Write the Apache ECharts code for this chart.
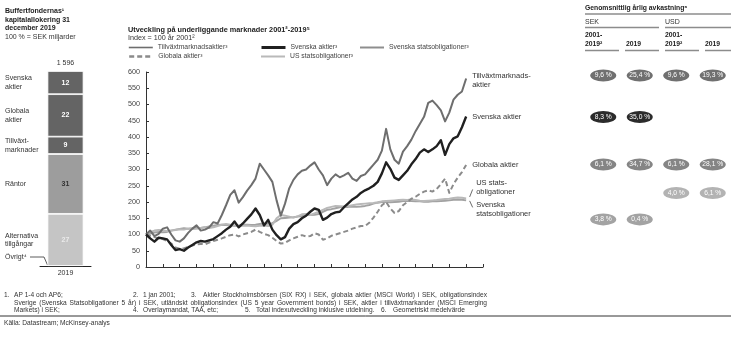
<!DOCTYPE html>
<html>
<head>
<meta charset="utf-8">
<script src="https://cdn.jsdelivr.net/npm/echarts@6/dist/echarts.min.js"></script>
<style>
  html, body { margin: 0; padding: 0; background: #fff; }
  #chart { width: 731px; height: 339px; }
</style>
</head>
<body>
<div id="chart"></div>
<script>
// ---------------------------------------------------------------
// Data
// ---------------------------------------------------------------

// Sample dates of the index series: quarterly, Jan 2001 .. Jan 2020
const quarters = Array.from({ length: 77 }, (_, i) => 2001 + i / 4);

// Index values (100 = 2001), one per quarter
const emergingEq = [
  100, 112, 95, 102,   118, 122, 100, 82,   78, 88, 105, 118,   128, 112, 115, 122,
  138, 134, 160, 190,  222, 236, 198, 215,  235, 252, 272, 318,  300, 282, 262, 205,
  158, 195, 242, 268,  285, 296, 300, 312,  322, 300, 282, 252,  272, 285, 276, 282,
  290, 272, 265, 280,  285, 300, 315, 330,  358, 425, 362, 330,  318, 355, 372, 392,
  418, 440, 462, 505,  512, 498, 482, 448,  475, 515, 530, 540,  580
];
const swedishEq = [
  100, 88, 78, 90,     88, 85, 68, 52,      55, 50, 60, 68,      76, 80, 78, 82,
  86, 95, 104, 115,    124, 140, 122, 134,  148, 162, 180, 160,  128, 145, 115, 98,
  85, 92, 118, 132,    138, 150, 158, 170,  180, 176, 145, 152,  163, 168, 170, 184,
  196, 208, 216, 228,  236, 242, 250, 262,  288, 322, 302, 275,  268, 282, 296, 316,
  332, 352, 362, 354,  362, 372, 390, 345,  378, 396, 402, 430,  463
];
const globalEq = [
  100, 96, 92, 88,     86, 80, 72, 60,      56, 57, 62, 66,      70, 71, 70, 75,
  80, 84, 88, 93,      98, 100, 94, 100,    104, 108, 115, 108,  102, 98, 90, 80,
  72, 74, 82, 88,      93, 98, 94, 95,      104, 100, 84, 88,    96, 100, 104, 108,
  112, 118, 122, 126,  126, 136, 152, 170,  190, 200, 180, 166,  172, 190, 200, 210,
  216, 225, 232, 236,  232, 240, 255, 272,  228, 255, 275, 292,  314
];
const swedishBonds = [
  100, 103, 106, 108,  107, 108, 112, 115,  117, 119, 118, 119,  121, 120, 122, 125,
  127, 129, 130, 129,  128, 127, 128, 130,  130, 129, 130, 132,  134, 133, 135, 142,
  150, 151, 152, 153,  155, 157, 160, 160,  161, 163, 170, 176,  178, 181, 184, 185,
  185, 186, 185, 186,  188, 191, 195, 198,  200, 200, 199, 200,  201, 203, 204, 203,
  202, 202, 201, 201,  202, 202, 203, 204,  205, 207, 208, 207,  205
];
const usBonds = [
  100, 108, 112, 114,  113, 110, 112, 114,  116, 115, 118, 117,  118, 120, 122, 120,
  122, 126, 130, 132,  130, 128, 126, 127,  128, 126, 125, 127,  128, 126, 130, 150,
  160, 158, 155, 152,  156, 162, 163, 160,  165, 170, 176, 182,  185, 188, 187, 186,
  188, 190, 192, 194,  195, 196, 197, 199,  202, 203, 204, 205,  206, 207, 206, 208,
  206, 204, 203, 204,  205, 206, 208, 209,  210, 212, 214, 213,  211
];

// Average annual return (%), rows: EM, Swedish eq, global eq, US bonds, Swedish bonds
const returnColumns = ['SEK 2001-2019', 'SEK 2019', 'USD 2001-2019', 'USD 2019'];
const retSekLong = [9.6, 8.3, 6.1, null, 3.8];
const retSek2019 = [25.4, 35.0, 34.7, null, 0.4];
const retUsdLong = [9.6, null, 6.1, 4.0, null];
const retUsd2019 = [19.3, null, 28.1, 6.1, null];

// Buffer funds' allocation at 31 Dec 2019 (% of total), top to bottom
const allocYear = ['2019'];
const allocNames = ['Svenska\naktier', 'Globala\naktier', 'Tillväxt-\nmarknader', 'Räntor', 'Alternativa\ntillgångar'];
const allocShares = [12, 22, 9, 31, 27];
const allocTotalLabel = '1 596';

// ---------------------------------------------------------------
// Styling
// ---------------------------------------------------------------
const FONT = '"Liberation Sans", Arial, Helvetica, sans-serif';

const lineDefs = [
  { name: 'Svenska statsobligationer³', data: swedishBonds, color: '#a2a2a2', width: 2, legendColor: '#8e8e8e',
    end: 'Svenska\nstatsobligationer', endOffset: [4, 9], row: 4, pillColor: '#a3a3a3', pillShift: 19 },
  { name: 'US statsobligationer³', data: usBonds, color: '#b9b9b9', width: 2, legendColor: '#b9b9b9',
    end: 'US stats-\nobligationer', endOffset: [4, -10.5], row: 3, pillColor: '#b3b3b3', pillShift: -5.5 },
  { name: 'Globala aktier³', data: globalEq, color: '#8b8b8b', width: 2, dash: [5, 3], legendWidth: 2.4,
    end: 'Globala aktier', endOffset: [0, 0], row: 2, pillColor: '#858585', pillShift: -0.5 },
  { name: 'Tillväxtmarknadsaktier³', data: emergingEq, color: '#6e6e6e', width: 2, legendWidth: 1.6,
    end: 'Tillväxtmarknads-\naktier', endOffset: [0, 2], row: 0, pillColor: '#707070', pillShift: -3 },
  { name: 'Svenska aktier³', data: swedishEq, color: '#202020', width: 2.4, legendWidth: 3,
    end: 'Svenska aktier', endOffset: [0, 0], row: 1, pillColor: '#2b2b2b', pillShift: 0.5 }
];

const retByColumn = [retSekLong, retSek2019, retUsdLong, retUsd2019];
const fmtPct = v => v.toFixed(1).replace('.', ',') + ' %';

// ---------------------------------------------------------------
// Series
// ---------------------------------------------------------------
const series = [];

lineDefs.forEach(d => {
  series.push({
    type: 'line', name: d.name, xAxisIndex: 0, yAxisIndex: 0,
    data: quarters.map((t, i) => [t, d.data[i]]),
    symbol: 'none', smooth: false,
    lineStyle: { color: d.color, width: d.width, type: d.dash || 'solid', join: 'round' },
    itemStyle: { color: d.legendColor || d.color },
    endLabel: {
      show: true, formatter: d.end, offset: d.endOffset, distance: 6,
      fontSize: 7.5, lineHeight: 9, color: '#333', fontFamily: FONT, align: 'left'
    },
    emphasis: { disabled: true }
  });
});

// Return "pills", one scatter row per market, aligned to the end of its line
lineDefs.forEach(d => {
  const last = d.data[d.data.length - 1];
  const pts = [];
  retByColumn.forEach((col, c) => {
    const v = col[d.row];
    if (v !== null) pts.push([c, last, v]);
  });
  series.push({
    type: 'scatter', xAxisIndex: 1, yAxisIndex: 1,
    data: pts, symbol: 'circle', symbolSize: [26, 12], symbolOffset: [0, d.pillShift],
    itemStyle: { color: d.pillColor, opacity: 1 },
    label: {
      show: true, position: 'inside', formatter: p => fmtPct(p.value[2]),
      color: '#fff', fontSize: 6.7, fontFamily: FONT
    },
    emphasis: { disabled: true }, silent: true
  });
});

// Allocation column, stacked from the bottom
const allocColors = ['#646464', '#646464', '#646464', '#9d9d9d', '#c5c5c5'];
const allocLabelColors = ['#fff', '#fff', '#fff', '#333', '#eaeaea'];
const allocTotal = allocShares.reduce((a, b) => a + b, 0);
for (let k = allocShares.length - 1; k >= 0; k--) {
  series.push({
    type: 'bar', name: allocNames[k], stack: 'alloc', xAxisIndex: 2, yAxisIndex: 2,
    data: [allocShares[k]], barWidth: 36,
    itemStyle: { color: allocColors[k], borderColor: '#fff', borderWidth: 0.8 },
    label: { show: true, position: 'inside', color: allocLabelColors[k], fontSize: 7, fontWeight: 'bold', fontFamily: FONT },
    emphasis: { disabled: true }, silent: true
  });
}

// ---------------------------------------------------------------
// Legends (one per entry, laid out in two rows), plain line samples
// ---------------------------------------------------------------
const legendSpots = {
  'Tillväxtmarknadsaktier³': [128, 44],
  'Svenska aktier³': [260, 44],
  'Svenska statsobligationer³': [359, 44],
  'Globala aktier³': [128, 53],
  'US statsobligationer³': [260, 53]
};
const legends = lineDefs.map(d => ({
  data: [d.name], left: legendSpots[d.name][0], top: legendSpots[d.name][1], padding: 0,
  itemWidth: 24, itemHeight: 8, selectedMode: false,
  itemStyle: { opacity: 0 },
  lineStyle: { color: d.legendColor || d.color, width: d.legendWidth || d.width, type: d.dash || 'solid' },
  textStyle: { fontSize: 6.8, color: '#444', fontFamily: FONT }
}));

const option = {
  animation: false,
  textStyle: { fontFamily: FONT },
  legend: legends,
  grid: [
    { left: 146, top: 72, width: 337, height: 195 },
    { left: 585, top: 72, width: 153, height: 195 },
    { left: 40, top: 71, width: 51, height: 195 }
  ],
  xAxis: [
    { gridIndex: 0, type: 'value', min: 2001, max: 2021, interval: 1,
      axisLabel: { show: false }, splitLine: { show: false },
      axisTick: { show: true, inside: true, length: 3, lineStyle: { color: '#333' } },
      axisLine: { show: true, lineStyle: { color: '#333', width: 1 } } },
    { gridIndex: 1, type: 'category', data: returnColumns, show: false },
    { gridIndex: 2, type: 'category', data: allocYear,
      axisTick: { show: false }, axisLine: { lineStyle: { color: '#222', width: 1 } },
      axisLabel: { fontSize: 7, color: '#333', margin: 4 } }
  ],
  yAxis: [
    { gridIndex: 0, type: 'value', min: 0, max: 600, interval: 50,
      axisLabel: { fontSize: 7.2, color: '#444', margin: 6 }, splitLine: { show: false },
      axisTick: { show: true, inside: true, length: 3, lineStyle: { color: '#333' } },
      axisLine: { show: true, lineStyle: { color: '#333', width: 1 } } },
    { gridIndex: 1, type: 'value', min: 0, max: 600, show: false },
    { gridIndex: 2, type: 'value', min: 0, max: allocTotal, show: false }
  ],
  series: series
};

const chart = echarts.init(document.getElementById('chart'));
chart.setOption(option);

// ---------------------------------------------------------------
// Titles, headers, annotations and footnotes
// ---------------------------------------------------------------
function txt(x, y, text, o) {
  return { type: 'text', x: x, y: y, silent: true,
    style: Object.assign({ text: text, fill: '#333', fontSize: 7, fontFamily: FONT,
      verticalAlign: 'middle', align: 'left', lineHeight: 8.6 }, o || {}) };
}
function seg(pts, stroke, w) {
  return { type: 'polyline', silent: true, shape: { points: pts },
    style: { stroke: stroke || '#8a8a8a', lineWidth: w || 1.5, fill: null } };
}

// Justified text: words spread evenly between x0 and x1
const measureCtx = document.createElement('canvas').getContext('2d');
function justified(x0, x1, y, text, size) {
  measureCtx.font = size + 'px ' + FONT;
  const words = text.split(' ');
  const widths = words.map(w => measureCtx.measureText(w).width);
  const total = widths.reduce((a, b) => a + b, 0);
  const gap = words.length > 1 ? (x1 - x0 - total) / (words.length - 1) : 0;
  const out = [];
  let x = x0;
  words.forEach((w, i) => {
    out.push(txt(x, y, w, { fontSize: size, fill: '#333' }));
    x += widths[i] + gap;
  });
  return out;
}

const g = [];

// Allocation panel
g.push(txt(5, 11, 'Buffertfondernas¹', { fontWeight: 'bold', fill: '#222' }));
g.push(txt(5, 19.7, 'kapitalallokering 31', { fontWeight: 'bold', fill: '#222' }));
g.push(txt(5, 28.4, 'december 2019', { fontWeight: 'bold', fill: '#222' }));
g.push(txt(5, 37, '100 % = SEK miljarder', { fill: '#333' }));

const barTop = chart.convertToPixel({ xAxisIndex: 2, yAxisIndex: 2 }, [0, allocTotal]);
g.push(txt(barTop[0], barTop[1] - 7.5, allocTotalLabel, { align: 'center', fill: '#333' }));
let cum = allocTotal;
allocShares.forEach((s, k) => {
  const mid = cum - s / 2;
  cum -= s;
  const p = chart.convertToPixel({ xAxisIndex: 2, yAxisIndex: 2 }, [0, mid]);
  g.push(txt(5, p[1], allocNames[k], { fill: '#333' }));
});
const barBottom = chart.convertToPixel({ xAxisIndex: 2, yAxisIndex: 2 }, [0, 0]);
g.push(txt(5, 257, 'Övrigt⁴', { fill: '#333' }));
g.push(seg([[30, 257], [44, 257], [barBottom[0] - 18, barBottom[1] - 1]], '#333', 0.8));

// Index chart
g.push(txt(128, 30, 'Utveckling på underliggande marknader 2001²-2019⁵', { fontWeight: 'bold', fill: '#222', fontSize: 7.3 }));
g.push(txt(128, 38.5, 'Index = 100 år 2001²', { fill: '#333', fontSize: 7.2 }));

// Brackets linking the two bond labels to their lines
const usEnd = chart.convertToPixel({ gridIndex: 0 }, [2020, usBonds[usBonds.length - 1]]);
const seEnd = chart.convertToPixel({ gridIndex: 0 }, [2020, swedishBonds[swedishBonds.length - 1]]);
g.push(seg([[usEnd[0] + 3.5, usEnd[1] - 1.5], [usEnd[0] + 6.5, usEnd[1] - 9]], '#444', 0.8));
g.push(seg([[seEnd[0] + 3.5, seEnd[1] + 0.5], [seEnd[0] + 6.5, seEnd[1] + 7]], '#444', 0.8));

// Return table headers
g.push(txt(585, 8.5, 'Genomsnittlig årlig avkastning⁶', { fontWeight: 'bold', fill: '#222', fontSize: 6.8 }));
g.push(seg([[585, 14], [731, 14]], '#8c8c8c', 1.5));
g.push(txt(585, 22, 'SEK', { fill: '#333', fontSize: 7 }));
g.push(txt(665, 22, 'USD', { fill: '#333', fontSize: 7 }));
g.push(seg([[585, 27.5], [659, 27.5]], '#8c8c8c', 1.5));
g.push(seg([[665, 27.5], [731, 27.5]], '#8c8c8c', 1.5));
g.push(txt(585, 39.5, '2001-\n2019²', { fontWeight: 'bold', fill: '#222', fontSize: 6.8 }));
g.push(txt(626, 43.8, '2019', { fontWeight: 'bold', fill: '#222', fontSize: 6.8 }));
g.push(txt(665, 39.5, '2001-\n2019²', { fontWeight: 'bold', fill: '#222', fontSize: 6.8 }));
g.push(txt(705, 43.8, '2019', { fontWeight: 'bold', fill: '#222', fontSize: 6.8 }));
g.push(seg([[585, 50.5], [619, 50.5]], '#8c8c8c', 1.5));
g.push(seg([[625, 50.5], [659, 50.5]], '#8c8c8c', 1.5));
g.push(seg([[665, 50.5], [699, 50.5]], '#8c8c8c', 1.5));
g.push(seg([[705, 50.5], [731, 50.5]], '#8c8c8c', 1.5));

// Footnotes
const FN = 6.6;
const fn = { fontSize: FN, fill: '#333' };
g.push(txt(4, 295.5, '1.', fn));
g.push(txt(14, 295.5, 'AP 1-4 och AP6;', fn));
g.push(txt(133, 295.5, '2.', fn));
g.push(txt(143, 295.5, '1 jan 2001;', fn));
g.push(txt(191, 295.5, '3.', fn));
justified(203, 487, 295.5, 'Aktier Stockholmsbörsen (SIX RX) i SEK, globala aktier (MSCI World) i SEK, obligationsindex', FN).forEach(e => g.push(e));
justified(14, 487, 303, 'Sverige (Svenska Statsobligationer 5 år) i SEK, utländskt obligationsindex (US 5 year Government bonds) i SEK, aktier i tillväxtmarkander (MSCI Emerging', FN).forEach(e => g.push(e));
g.push(txt(14, 310.5, 'Markets) i SEK;', fn));
g.push(txt(133, 310.5, '4.', fn));
g.push(txt(143, 310.5, 'Overlaymandat, TAA, etc;', fn));
g.push(txt(245, 310.5, '5.', fn));
g.push(txt(256, 310.5, 'Total indexutveckling inklusive utdelning.', fn));
g.push(txt(381, 310.5, '6.', fn));
g.push(txt(393, 310.5, 'Geometriskt medelvärde', fn));
g.push(seg([[0, 316], [731, 316]], '#333', 1));
g.push(txt(4, 323, 'Källa: Datastream; McKinsey-analys', fn));

chart.setOption({ graphic: g });
</script>
</body>
</html>
